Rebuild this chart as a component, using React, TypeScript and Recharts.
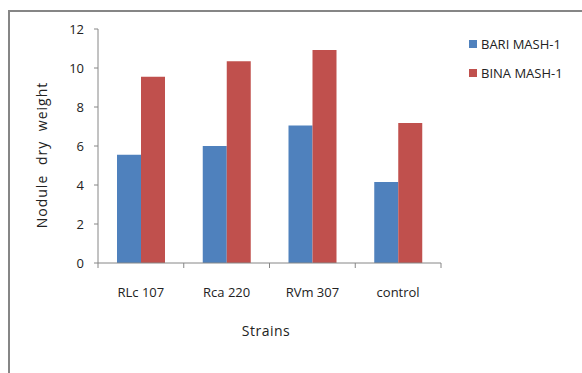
import React from "react";
import { BarChart, Bar, XAxis, YAxis, Legend, Label } from "recharts";

const categories = ["RLc 107", "Rca 220", "RVm 307", "control"];
const bariMash = [5.55, 6.0, 7.05, 4.15];
const binaMash = [9.55, 10.35, 10.92, 7.18];
const yTicks = [0, 2, 4, 6, 8, 10, 12];
const seriesNames = ["BARI MASH-1", "BINA MASH-1"];

const data = categories.map((c, i) => ({
  name: c,
  bari: bariMash[i],
  bina: binaMash[i],
}));

const W = 582;
const H = 373;
const MARGIN = { top: 29, right: 141, bottom: 30, left: 8 };
const YAXIS_W = 90;
const XAXIS_H = 80;
const PLOT_W = W - MARGIN.left - MARGIN.right - YAXIS_W;
const FONT = "'Open Sans', sans-serif";
const BLUE = "#4F81BD";
const RED = "#C0504D";
const AXIS = "#868686";
const TEXT = "#222";

const XTick = (props: any) => {
  const { x, y, payload, index, visibleTicksCount } = props;
  const band = PLOT_W / (visibleTicksCount || categories.length);
  const left = x - band / 2;
  const right = x + band / 2;
  return (
    <g>
      <line x1={left} y1={y} x2={left} y2={y + 5} stroke={AXIS} strokeWidth={1} />
      {index === (visibleTicksCount || categories.length) - 1 && (
        <line x1={right} y1={y} x2={right} y2={y + 5} stroke={AXIS} strokeWidth={1} />
      )}
      <text x={x} y={y + 34} textAnchor="middle" fontFamily={FONT} fontSize={13} fill={TEXT}>
        {payload.value}
      </text>
    </g>
  );
};

const YLabel = (props: any) => {
  const vb = props.viewBox || { x: MARGIN.left, y: MARGIN.top, width: YAXIS_W, height: 234 };
  const cx = vb.x + 33;
  const cy = vb.y + vb.height / 2 + 9;
  return (
    <text
      x={cx}
      y={cy}
      transform={`rotate(-90, ${cx}, ${cy})`}
      textAnchor="middle"
      dominantBaseline="central"
      fontFamily={FONT}
      fontSize={14}
      fill={TEXT}
      style={{ letterSpacing: "1px", wordSpacing: "5px" }}
    >
      Nodule dry weight
    </text>
  );
};

const XLabel = (props: any) => {
  const vb = props.viewBox || { x: MARGIN.left + YAXIS_W, y: 263, width: PLOT_W, height: XAXIS_H };
  return (
    <text
      x={vb.x + vb.width / 2 - 3.5}
      y={vb.y + 73}
      textAnchor="middle"
      fontFamily={FONT}
      fontSize={14}
      fill={TEXT}
      style={{ letterSpacing: "0.5px" }}
    >
      Strains
    </text>
  );
};

const LegendContent = () => {
  const colors = [BLUE, RED];
  return (
    <div style={{ fontFamily: FONT, fontSize: 13, color: TEXT }}>
      {seriesNames.map((n, i) => (
        <div key={n} style={{ display: "flex", alignItems: "center", height: 29 }}>
          <span style={{ display: "inline-block", width: 8, height: 8, background: colors[i], marginRight: 4 }} />
          <span>{n}</span>
        </div>
      ))}
    </div>
  );
};

export default function App() {
  return (
    <div style={{ position: "absolute", left: 0, top: 0, width: W, height: H, background: "#fff" }}>
      <div
        style={{
          position: "absolute",
          left: 8,
          top: 10,
          width: W,
          height: H,
          borderTop: `2px solid ${AXIS}`,
          borderLeft: `2px solid ${AXIS}`,
          boxSizing: "border-box",
        }}
      />
      <div style={{ position: "absolute", left: 0, top: 0 }}>
        <BarChart width={W} height={H} data={data} margin={MARGIN} barGap={0}>
          <XAxis
            dataKey="name"
            height={XAXIS_H}
            stroke={AXIS}
            tickLine={false}
            tickSize={0}
            tickMargin={0}
            tick={<XTick />}
            interval={0}
          >
            <Label content={<XLabel />} />
          </XAxis>
          <YAxis
            width={YAXIS_W}
            domain={[0, 12]}
            ticks={yTicks}
            stroke={AXIS}
            tickSize={4}
            tickMargin={10}
            tick={{ fontFamily: FONT, fontSize: 13, fill: TEXT }}
          >
            <Label content={<YLabel />} />
          </YAxis>
          <Legend
            layout="horizontal"
            align="center"
            verticalAlign="middle"
            content={<LegendContent />}
            wrapperStyle={{ left: 469, top: 29, width: 110 }}
          />
          <Bar dataKey="bari" name={seriesNames[0]} fill={BLUE} barSize={24} isAnimationActive={false} />
          <Bar dataKey="bina" name={seriesNames[1]} fill={RED} barSize={24} isAnimationActive={false} />
        </BarChart>
      </div>
    </div>
  );
}
